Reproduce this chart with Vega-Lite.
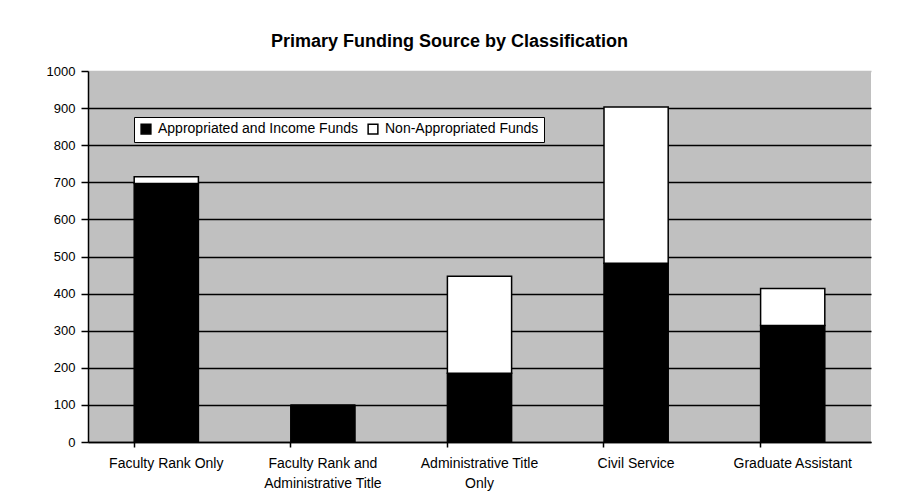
{
  "$schema": "https://vega.github.io/schema/vega-lite/v6.json",
  "width": 783,
  "height": 371,
  "autosize": {"type": "none"},
  "padding": {"left": 88, "top": 71, "right": 30, "bottom": 62},
  "background": "white",
  "title": {
    "text": "Primary Funding Source by Classification",
    "font": "Liberation Sans",
    "fontSize": 18,
    "fontWeight": "bold",
    "color": "black",
    "anchor": "middle",
    "dx": -30,
    "offset": 14
  },
  "data": {
    "values": [
      {"classification": "Faculty Rank Only", "source": "Appropriated and Income Funds", "order": 1, "count": 697},
      {"classification": "Faculty Rank Only", "source": "Non-Appropriated Funds", "order": 2, "count": 18},
      {"classification": "Faculty Rank and Administrative Title", "source": "Appropriated and Income Funds", "order": 1, "count": 99},
      {"classification": "Faculty Rank and Administrative Title", "source": "Non-Appropriated Funds", "order": 2, "count": 0},
      {"classification": "Administrative Title Only", "source": "Appropriated and Income Funds", "order": 1, "count": 185},
      {"classification": "Administrative Title Only", "source": "Non-Appropriated Funds", "order": 2, "count": 262},
      {"classification": "Civil Service", "source": "Appropriated and Income Funds", "order": 1, "count": 482},
      {"classification": "Civil Service", "source": "Non-Appropriated Funds", "order": 2, "count": 421},
      {"classification": "Graduate Assistant", "source": "Appropriated and Income Funds", "order": 1, "count": 314},
      {"classification": "Graduate Assistant", "source": "Non-Appropriated Funds", "order": 2, "count": 100}
    ]
  },
  "config": {
    "view": {"fill": "#C0C0C0", "stroke": null},
    "font": "Liberation Sans",
    "axis": {
      "labelFont": "Liberation Sans",
      "labelColor": "black",
      "domainColor": "black",
      "domainWidth": 1.5,
      "tickColor": "black",
      "tickWidth": 1.5,
      "title": null
    }
  },
  "mark": {"type": "bar", "stroke": "black", "strokeWidth": 1.5},
  "encoding": {
    "x": {
      "field": "classification",
      "type": "nominal",
      "sort": null,
      "scale": {"paddingInner": 0.59, "paddingOuter": 0.295},
      "axis": {
        "labelAngle": 0,
        "labelFontSize": 14,
        "labelPadding": 9,
        "tickSize": 5,
        "bandPosition": 0,
        "grid": false,
        "labelLineHeight": 20,
        "labelLimit": 200,
        "labelExpr": "datum.label == 'Faculty Rank and Administrative Title' ? ['Faculty Rank and', 'Administrative Title'] : datum.label == 'Administrative Title Only' ? ['Administrative Title', 'Only'] : datum.label"
      }
    },
    "y": {
      "field": "count",
      "type": "quantitative",
      "stack": "zero",
      "scale": {"domain": [0, 1000]},
      "axis": {
        "values": [0, 100, 200, 300, 400, 500, 600, 700, 800, 900, 1000],
        "grid": true,
        "gridColor": {"condition": {"test": "datum.value == 1000", "value": "#C0C0C0"}, "value": "black"},
        "gridWidth": 1.5,
        "tickSize": 7,
        "labelFontSize": 13,
        "labelPadding": 6,
        "format": "d"
      }
    },
    "color": {
      "field": "source",
      "type": "nominal",
      "scale": {
        "domain": ["Appropriated and Income Funds", "Non-Appropriated Funds"],
        "range": ["black", "white"]
      },
      "legend": {
        "title": null,
        "orient": "none",
        "legendX": 46,
        "legendY": 46,
        "direction": "horizontal",
        "fillColor": "white",
        "strokeColor": "black",
        "padding": 5,
        "symbolType": "square",
        "symbolSize": 95,
        "symbolStrokeColor": "black",
        "symbolStrokeWidth": 1.5,
        "symbolOpacity": 1,
        "labelFont": "Liberation Sans",
        "labelFontSize": 14,
        "labelLimit": 300,
        "labelColor": "black",
        "columnPadding": 6,
        "labelOffset": 5
      }
    },
    "order": {"field": "order", "type": "quantitative"}
  }
}
